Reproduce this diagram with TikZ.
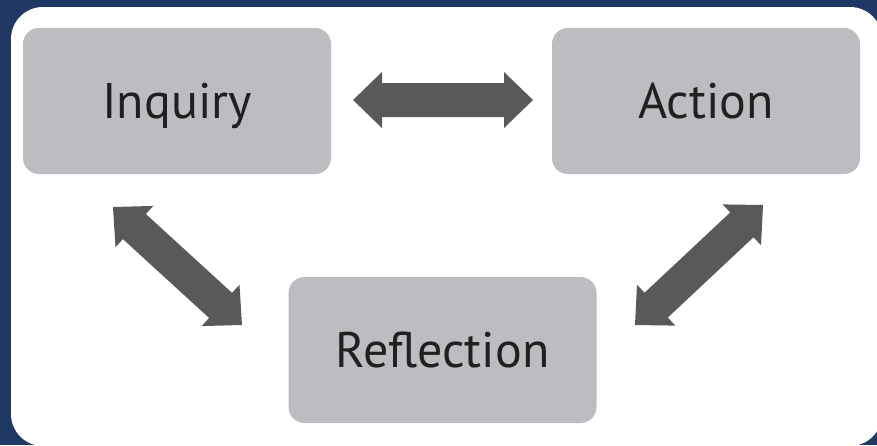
\documentclass[tikz,border=0pt]{standalone}
\usepackage{fontspec}
\setmainfont{PT Sans}
\usetikzlibrary{calc}
\definecolor{navy}{RGB}{31,56,100}
\definecolor{boxgray}{RGB}{188,189,192}
\definecolor{arrgray}{RGB}{88,89,91}
\definecolor{txtc}{RGB}{35,31,32}
\newcommand\dblarr[2]{%
\fill[arrgray] let \p1=(#1), \p2=(#2), \n1={atan2(\y2-\y1,\x2-\x1)}, \n2={veclen(\x2-\x1,\y2-\y1)} in
 [shift={(\p1)}, rotate=\n1] (0pt,0pt) -- (29pt,28pt) -- (29pt,17pt) -- ({\n2*1pt-29pt},17pt) -- ({\n2*1pt-29pt},28pt) -- ({\n2*1pt},0pt) -- ({\n2*1pt-29pt},-28pt) -- ({\n2*1pt-29pt},-17pt) -- (29pt,-17pt) -- (29pt,-28pt) -- cycle;}
\tikzset{
  box/.style={minimum width=308pt, minimum height=146pt, rounded corners=16pt, fill=boxgray, text=txtc,
    font=\fontsize{50}{50}\selectfont, text height=35pt, text depth=0pt, inner sep=0pt}
}
\begin{document}
\begin{tikzpicture}[x=1pt,y=-1pt]
\fill[navy] (0,0) rectangle (877,445);
\useasboundingbox (0,0) rectangle (877,445);
\fill[white, rounded corners=32pt] (11,7) rectangle (882,446);
\node[box] (inq) at (177,101) {Inquiry};
\node[box] (act) at (706,101) {Action};
\node[box] (ref) at (442.5,350) {Reflection};
\coordinate (h1) at (353,100);
\coordinate (h2) at (533,100);
\coordinate (l1) at (113,207);
\coordinate (l2) at (242,325);
\coordinate (r1) at (763,205);
\coordinate (r2) at (635,325);
\dblarr{h1}{h2}
\dblarr{l1}{l2}
\dblarr{r1}{r2}
\end{tikzpicture}
\end{document}
